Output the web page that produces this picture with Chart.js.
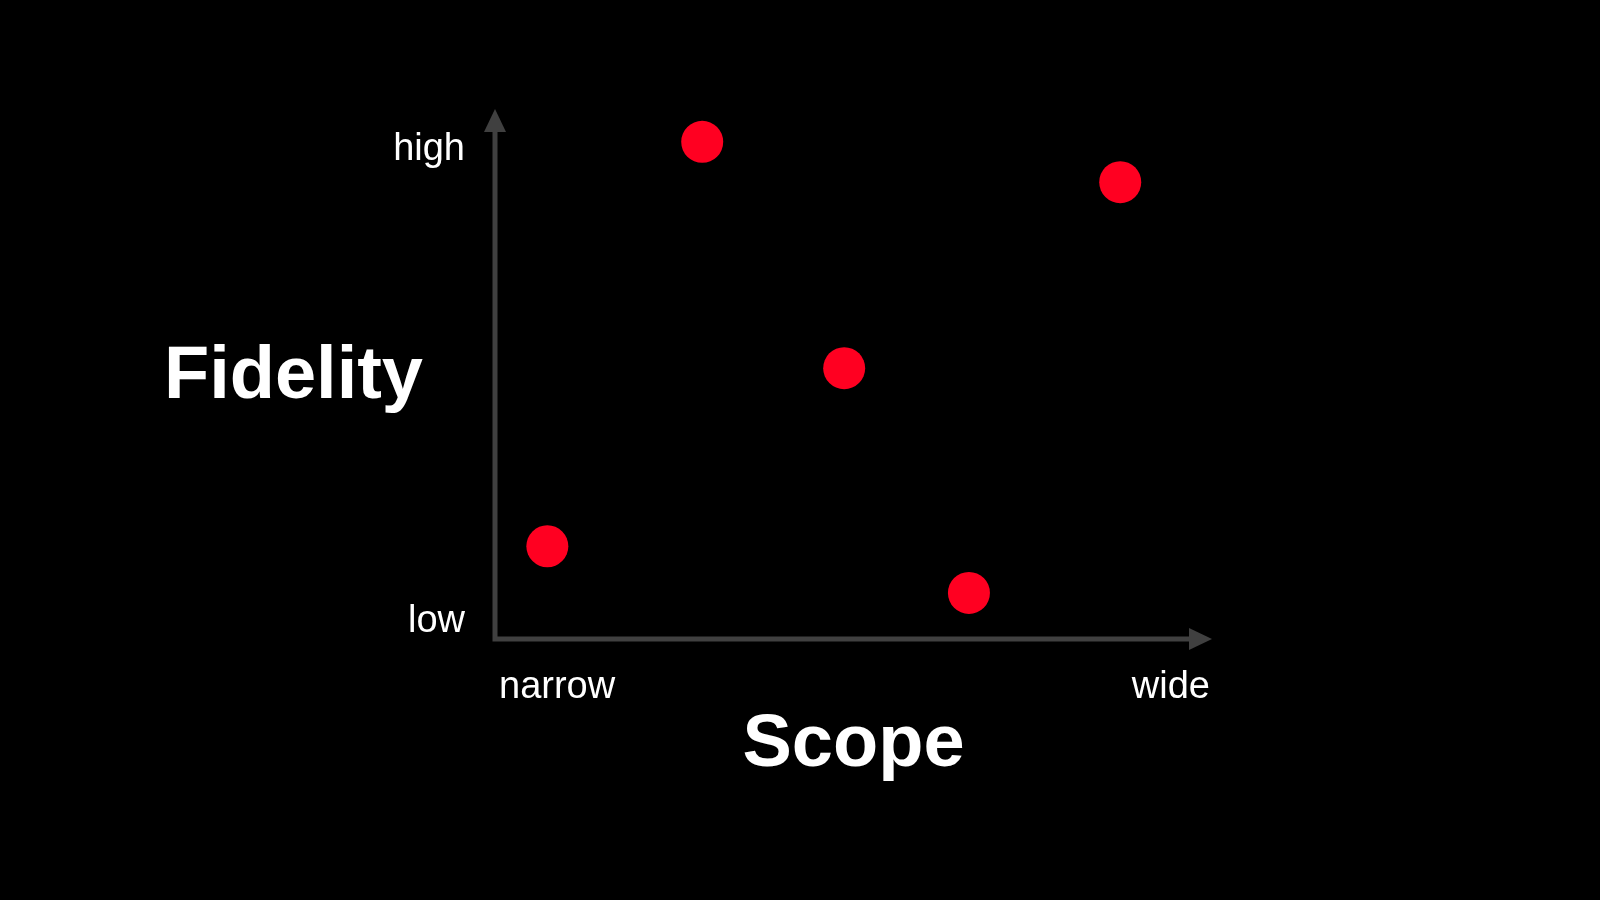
<!DOCTYPE html>
<html>
<head>
<meta charset="utf-8">
<script src="https://cdn.jsdelivr.net/npm/chart.js@4"></script>
<style>
  html, body { margin: 0; padding: 0; background: #000; }
  #wrap { width: 1600px; height: 900px; position: relative; }
</style>
</head>
<body>
<div id="wrap"><canvas id="c" width="1600" height="900"></canvas></div>
<script>
// ---- data ----
const scopeValues    = [28.9, 87.2, 48.7, 7.3, 66.1];
const fidelityValues = [93.8, 86.2, 51.1, 17.5, 8.7];
const xTickLabels = ['narrow', 'wide'];
const yTickLabels = ['low', 'high'];
const xTitle = 'Scope';
const yTitle = 'Fidelity';

const AXIS_COLOR = '#404040';
const TEXT_COLOR = '#ffffff';
const POINT_COLOR = '#ff0021';
const FONT = '"Liberation Sans", Arial, Helvetica, sans-serif';

const points = scopeValues.map((x, i) => ({ x, y: fidelityValues[i] }));

const axesPlugin = {
  id: 'arrowAxes',
  beforeDatasetsDraw(chart) {
    const ctx = chart.ctx;
    const xs = chart.scales.x, ys = chart.scales.y;
    const x0 = xs.getPixelForValue(xs.min), x1 = xs.getPixelForValue(xs.max);
    const y0 = ys.getPixelForValue(ys.min), y1 = ys.getPixelForValue(ys.max);
    ctx.save();
    // axis lines
    ctx.strokeStyle = AXIS_COLOR;
    ctx.lineWidth = 5;
    ctx.lineJoin = 'miter';
    ctx.lineCap = 'butt';
    ctx.beginPath();
    ctx.moveTo(x0, y1 + 20);
    ctx.lineTo(x0, y0);
    ctx.lineTo(x1 - 20, y0);
    ctx.stroke();
    // arrow heads
    ctx.fillStyle = AXIS_COLOR;
    ctx.beginPath();
    ctx.moveTo(x0, y1);
    ctx.lineTo(x0 - 11, y1 + 23);
    ctx.lineTo(x0 + 11, y1 + 23);
    ctx.closePath();
    ctx.fill();
    ctx.beginPath();
    ctx.moveTo(x1, y0);
    ctx.lineTo(x1 - 23, y0 - 11);
    ctx.lineTo(x1 - 23, y0 + 11);
    ctx.closePath();
    ctx.fill();

    // tick labels
    ctx.fillStyle = TEXT_COLOR;
    ctx.font = '38px ' + FONT;
    ctx.textBaseline = 'alphabetic';
    ctx.textAlign = 'right';
    ctx.fillText(yTickLabels[1], x0 - 30, y1 + 51);
    ctx.fillText(yTickLabels[0], x0 - 30, y0 - 7);
    ctx.textAlign = 'left';
    ctx.fillText(xTickLabels[0], x0 + 4, y0 + 59);
    ctx.textAlign = 'right';
    ctx.fillText(xTickLabels[1], x1 - 2, y0 + 59);

    // titles
    ctx.font = 'bold 74px ' + FONT;
    ctx.textAlign = 'center';
    ctx.fillText(xTitle, (x0 + x1) / 2, y0 + 127);
    ctx.textAlign = 'right';
    ctx.textBaseline = 'alphabetic';
    ctx.fillText(yTitle, x0 - 72, (y0 + y1) / 2 + 24);
    ctx.restore();
  }
};

new Chart(document.getElementById('c'), {
  type: 'scatter',
  data: {
    datasets: [{
      data: points,
      backgroundColor: POINT_COLOR,
      borderColor: POINT_COLOR,
      borderWidth: 0,
      pointRadius: 21,
      pointHoverRadius: 21,
      clip: false
    }]
  },
  options: {
    responsive: false,
    animation: false,
    events: [],
    layout: { padding: { left: 495, right: 388, top: 109, bottom: 261 } },
    plugins: { legend: { display: false }, tooltip: { enabled: false } },
    scales: {
      x: { type: 'linear', min: 0, max: 100, display: false },
      y: { type: 'linear', min: 0, max: 100, display: false }
    }
  },
  plugins: [axesPlugin, {
    id: 'bg',
    beforeDraw(chart) {
      const ctx = chart.ctx;
      ctx.save();
      ctx.fillStyle = '#000';
      ctx.fillRect(0, 0, chart.width, chart.height);
      ctx.restore();
    }
  }]
});
</script>
</body>
</html>
